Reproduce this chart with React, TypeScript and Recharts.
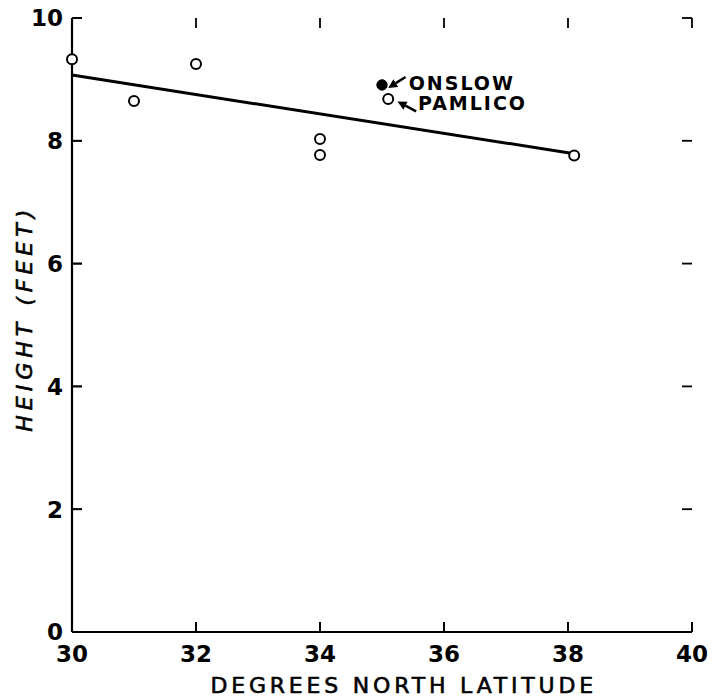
import React from 'react';
import { ScatterChart, Scatter, XAxis, YAxis, ReferenceLine, ReferenceDot } from 'recharts';

// Data
const latitudes = [30, 31, 32, 34, 34, 35.1, 38.1];
const heights = [9.33, 8.65, 9.25, 8.03, 7.77, 8.68, 7.76];
const onslowLat = [35.0];
const onslowHeight = [8.91];
const fitLat = [30, 38.1];
const fitHeight = [9.07, 7.79];
const xTicks = [30, 32, 34, 36, 38, 40];
const yTicks = [0, 2, 4, 6, 8, 10];
const annotationText = ['ONSLOW', 'PAMLICO'];
const annotationLat = [35.43, 35.58];
const annotationHeight = [8.94, 8.61];
const arrowFromLat = [35.38, 35.55];
const arrowFromHeight = [9.04, 8.48];
const arrowToLat = [35.1, 35.25];
const arrowToHeight = [8.86, 8.64];
const xTitle = 'DEGREES NORTH LATITUDE';
const yTitle = 'HEIGHT (FEET)';
const xTitlePos = { x: 35.35, y: -1.0 };
const yTitlePos = { x: 29.24, y: 5.11 };

const X_MIN = 30;
const X_MAX = 40;
const Y_MIN = 0;
const Y_MAX = 10;

const openData = latitudes.map((x, i) => ({ x, y: heights[i] }));
const filledData = onslowLat.map((x, i) => ({ x, y: onslowHeight[i] }));

const bottomTicks = xTicks.map((t) => ({ x: t, y: Y_MIN }));
const topTicks = xTicks.map((t) => ({ x: t, y: Y_MAX }));
const leftTicks = yTicks.map((t) => ({ x: X_MIN, y: t }));
const rightTicks = yTicks.map((t) => ({ x: X_MAX, y: t }));

const FONT = '"DejaVu Sans", sans-serif';
const TICK_LEN = 10;
const X_TICK_MARGIN = 7;
const Y_TICK_MARGIN = 3;

const makeTick = (dx: number, dy: number) => (props: any) => {
  const { cx, cy } = props;
  return (
    <path d={`M${cx},${cy}L${cx + dx},${cy + dy}`} stroke="#000" strokeWidth={1.8} fill="none" />
  );
};
const BottomTick = makeTick(0, -TICK_LEN);
const TopTick = makeTick(0, TICK_LEN);
const LeftTick = makeTick(TICK_LEN, 0);
const RightTick = makeTick(-TICK_LEN, 0);

const XTick = (props: any) => {
  const { x, y, payload } = props;
  return (
    <text x={x} y={Number(y) + 17} textAnchor="middle" fontFamily={FONT} fontWeight="bold" fontSize={23} fill="#000">
      {payload.value}
    </text>
  );
};

const YTick = (props: any) => {
  const { x, y, payload } = props;
  return (
    <text x={x} y={Number(y) + 8.4} textAnchor="end" fontFamily={FONT} fontWeight="bold" fontSize={23} fill="#000">
      {payload.value}
    </text>
  );
};

const OpenCircle = (props: any) => (
  <circle cx={props.cx} cy={props.cy} r={5} fill="#fff" stroke="#000" strokeWidth={2} />
);
const FilledCircle = (props: any) => (
  <circle cx={props.cx} cy={props.cy} r={5.2} fill="#000" stroke="#000" strokeWidth={1} />
);

const Arrow = (props: any) => {
  const { x1, y1, x2, y2 } = props;
  const ang = Math.atan2(y2 - y1, x2 - x1);
  const L = 9;
  const W = 4.5;
  const bx = x2 - L * Math.cos(ang);
  const by = y2 - L * Math.sin(ang);
  const px = -Math.sin(ang) * W;
  const py = Math.cos(ang) * W;
  return (
    <g>
      <line x1={x1} y1={y1} x2={bx} y2={by} stroke="#000" strokeWidth={2.5} />
      <polygon points={`${x2},${y2} ${bx + px},${by + py} ${bx - px},${by - py}`} fill="#000" />
    </g>
  );
};

const makeTextShape = (txt: string) => (props: any) => (
  <text
    x={props.cx}
    y={props.cy}
    dominantBaseline="central"
    fontFamily={FONT}
    fontWeight="bold"
    fontSize={19}
    letterSpacing={2}
    fill="#000"
  >
    {txt}
  </text>
);

const XTitleShape = (props: any) => (
  <text
    x={props.cx}
    y={props.cy}
    textAnchor="middle"
    fontFamily={FONT}
    fontSize={22}
    letterSpacing={3.8}
    stroke="#000"
    strokeWidth={0.6}
    fill="#000"
  >
    {xTitle}
  </text>
);

const YTitleShape = (props: any) => {
  const { cx, cy } = props;
  return (
    <text
      x={cx}
      y={cy}
      transform={`rotate(-90, ${cx}, ${cy})`}
      textAnchor="middle"
      dominantBaseline="central"
      fontFamily={FONT}
      fontStyle="italic"
      fontSize={22}
      letterSpacing={5}
      stroke="#000"
      strokeWidth={0.6}
      fill="#000"
    >
      {yTitle}
    </text>
  );
};

export default function App() {
  return (
    <div style={{ position: 'absolute', left: 0, top: 0, background: '#fff' }}>
      <ScatterChart width={719} height={697} margin={{ top: 18, right: 27, bottom: 0, left: 0 }}>
        <XAxis
          type="number"
          dataKey="x"
          domain={[X_MIN, X_MAX]}
          ticks={xTicks}
          height={65}
          tickLine={false}
          tickMargin={X_TICK_MARGIN}
          tick={XTick}
          stroke="#000"
          strokeWidth={2.2}
        />
        <XAxis
          xAxisId="top"
          orientation="top"
          type="number"
          dataKey="x"
          domain={[X_MIN, X_MAX]}
          ticks={xTicks}
          height={0}
          tickLine={false}
          tick={false}
          stroke="#000"
          strokeWidth={2.2}
        />
        <YAxis
          type="number"
          dataKey="y"
          domain={[Y_MIN, Y_MAX]}
          ticks={yTicks}
          width={72}
          tickLine={false}
          tickMargin={Y_TICK_MARGIN}
          tick={YTick}
          stroke="#000"
          strokeWidth={2.2}
        />
        <YAxis
          yAxisId="right"
          orientation="right"
          type="number"
          dataKey="y"
          domain={[Y_MIN, Y_MAX]}
          ticks={yTicks}
          width={0}
          tickLine={false}
          tick={false}
          stroke="#000"
          strokeWidth={2.2}
        />
        <ReferenceLine
          segment={[
            { x: fitLat[0], y: fitHeight[0] },
            { x: fitLat[1], y: fitHeight[1] },
          ]}
          stroke="#000"
          strokeWidth={3}
        />
        {annotationText.map((t, i) => (
          <ReferenceLine
            key={'arr' + i}
            segment={[
              { x: arrowFromLat[i], y: arrowFromHeight[i] },
              { x: arrowToLat[i], y: arrowToHeight[i] },
            ]}
            shape={Arrow}
          />
        ))}
        {annotationText.map((t, i) => (
          <ReferenceDot
            key={'txt' + i}
            x={annotationLat[i]}
            y={annotationHeight[i]}
            shape={makeTextShape(t)}
          />
        ))}
        <ReferenceDot x={xTitlePos.x} y={xTitlePos.y} ifOverflow="visible" shape={XTitleShape} />
        <ReferenceDot x={yTitlePos.x} y={yTitlePos.y} ifOverflow="visible" shape={YTitleShape} />
        {bottomTicks.map((p, i) => (
          <ReferenceDot key={'rb' + i} x={p.x} y={p.y} ifOverflow="visible" shape={BottomTick} />
        ))}
        {leftTicks.map((p, i) => (
          <ReferenceDot key={'rl' + i} x={p.x} y={p.y} ifOverflow="visible" shape={LeftTick} />
        ))}
        <Scatter data={bottomTicks} shape={BottomTick} isAnimationActive={false} />
        <Scatter data={topTicks} shape={TopTick} isAnimationActive={false} />
        <Scatter data={leftTicks} shape={LeftTick} isAnimationActive={false} />
        <Scatter data={rightTicks} shape={RightTick} isAnimationActive={false} />
        <Scatter data={openData} shape={OpenCircle} isAnimationActive={false} />
        <Scatter data={filledData} shape={FilledCircle} isAnimationActive={false} />
      </ScatterChart>
    </div>
  );
}
